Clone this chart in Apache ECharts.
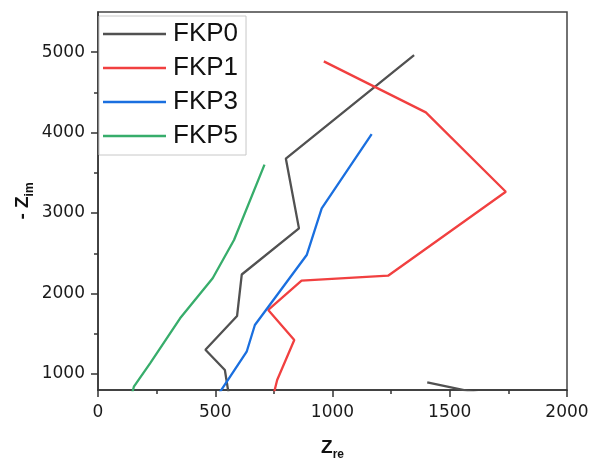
<!DOCTYPE html>
<html>
<head>
<meta charset="utf-8">
<script src="https://cdn.jsdelivr.net/npm/echarts@6/dist/echarts.min.js"></script>
<style>html,body{margin:0;padding:0;background:#fff}#c{width:602px;height:458px}</style>
</head>
<body>
<div id="c"></div>
<script>
const seriesNames = ['FKP0', 'FKP1', 'FKP3', 'FKP5'];
const seriesColors = ['#515151', '#F14040', '#1A6FDF', '#37AD6B'];
// [Z_re, -Z_im] points
const fkp0 = [[1404, 896], [1720, 700], [560, 700], [541, 1049], [458, 1301], [593, 1720], [613, 2236], [857, 2810], [801, 3678], [1348, 4965]];
const fkp1 = [[963, 4886], [1398, 4252], [1739, 3265], [1237, 2221], [868, 2159], [726, 1795], [837, 1422], [764, 924], [745, 700]];
const fkp3 = [[1167, 3982], [954, 3059], [890, 2478], [669, 1608], [634, 1276], [503, 700]];
const fkp5 = [[710, 3603], [580, 2665], [489, 2189], [350, 1691], [222, 1132], [153, 841], [140, 700]];
const xTicks = [0, 500, 1000, 1500, 2000];
const yTicks = [1000, 2000, 3000, 4000, 5000];
const yMinorTicks = [1500, 2500, 3500, 4500];
const allData = [fkp0, fkp1, fkp3, fkp5];

const axisColor = '#333';
const tickFont = { fontFamily: 'DejaVu Sans', fontSize: 17, color: '#1a1a1a', formatter: v => String(v) };

const chart = echarts.init(document.getElementById('c'), null, { renderer: 'canvas' });
chart.setOption({
  animation: false,
  backgroundColor: '#fff',
  grid: { left: 98, right: 35, top: 12, bottom: 68, containLabel: false, outerBoundsMode: 'none', show: true, borderColor: '#444', borderWidth: 1.5, backgroundColor: 'transparent' },
  legend: {
    orient: 'vertical', left: 99, top: 16,
    padding: [5, 8, 6, 4],
    itemGap: 8, itemWidth: 63, itemHeight: 2.5, icon: 'rect',
    borderColor: '#c8c8c8', borderWidth: 1, backgroundColor: '#fff',
    textStyle: { fontFamily: 'Liberation Sans', fontSize: 26, lineHeight: 26, color: '#111', padding: [0, 0, 0, 2] },
    data: seriesNames
  },
  xAxis: {
    type: 'value', min: xTicks[0], max: xTicks[xTicks.length - 1], interval: 500,
    name: '{z|Z}{s|re}', nameLocation: 'middle', nameGap: 45, nameMoveOverlap: false,
    nameTextStyle: {
      rich: {
        z: { fontFamily: 'Liberation Sans', fontSize: 19, fontWeight: 'bold', lineHeight: 26, color: '#111' },
        s: { fontFamily: 'Liberation Sans', fontSize: 12, fontWeight: 'bold', lineHeight: 12, verticalAlign: 'bottom', color: '#111' }
      }
    },
    axisLine: { lineStyle: { color: axisColor, width: 1.5 } },
    axisTick: { show: true, length: 7, lineStyle: { color: axisColor, width: 1.5 } },
    minorTick: { show: true, splitNumber: 2, length: 4, lineStyle: { color: axisColor, width: 1.5 } },
    axisLabel: Object.assign({ margin: 14 }, tickFont),
    splitLine: { show: false }
  },
  yAxis: [{
    type: 'value', min: 800, max: 5500,
    name: '{m|- }{z|Z}{s|im}', nameLocation: 'middle', nameGap: 62, nameRotate: 90, nameMoveOverlap: false,
    nameTextStyle: {
      rich: {
        m: { fontFamily: 'Liberation Sans', fontSize: 19, fontWeight: 'bold', lineHeight: 26, color: '#111' },
        z: { fontFamily: 'Liberation Sans', fontSize: 19, fontWeight: 'bold', lineHeight: 26, color: '#111' },
        s: { fontFamily: 'Liberation Sans', fontSize: 12, fontWeight: 'bold', lineHeight: 12, verticalAlign: 'bottom', color: '#111' }
      }
    },
    axisLine: { show: true, lineStyle: { color: axisColor, width: 1.5 } },
    axisTick: { show: true, length: 7, customValues: yTicks, lineStyle: { color: axisColor, width: 1.5 } },
    axisLabel: Object.assign({ margin: 13, customValues: yTicks }, tickFont),
    splitLine: { show: false }
  }, {
    type: 'value', min: 800, max: 5500, position: 'left', offset: 0,
    axisLine: { show: false },
    axisTick: { show: true, length: 4, customValues: yMinorTicks, lineStyle: { color: axisColor, width: 1.5 } },
    axisLabel: { show: false },
    splitLine: { show: false }
  }],
  series: seriesNames.map((n, i) => ({
    name: n, type: 'line', data: allData[i], symbol: 'none', clip: true,
    lineStyle: { color: seriesColors[i], width: 2.3 }, itemStyle: { color: seriesColors[i] }
  }))
});
</script>
</body>
</html>
